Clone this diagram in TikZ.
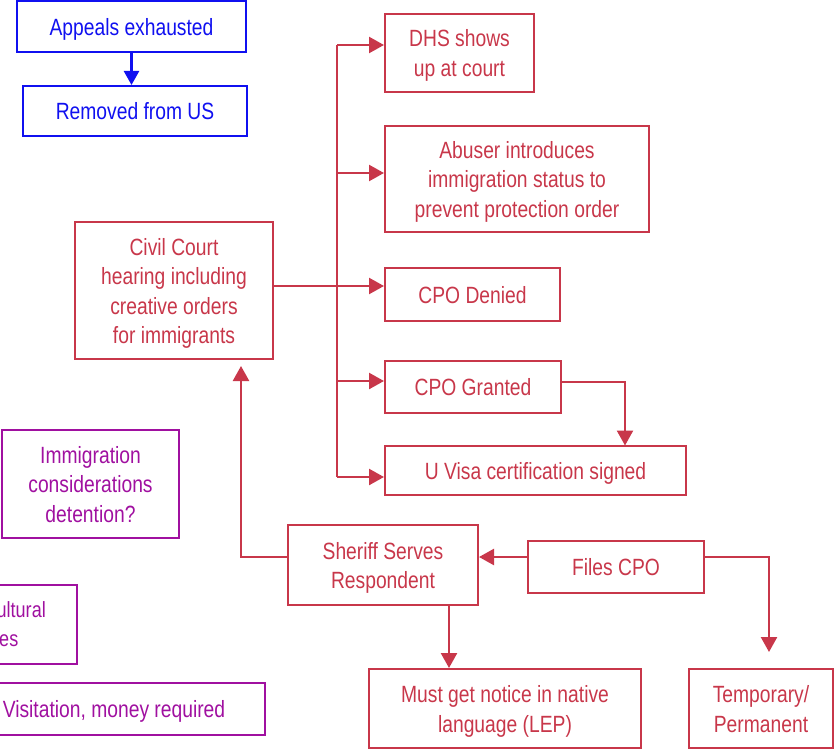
\documentclass[tikz,border=0pt]{standalone}
\usepackage{fontspec}
\setmainfont[FakeStretch=0.82]{Liberation Sans}
\usetikzlibrary{arrows.meta}
\definecolor{flowred}{HTML}{C8374A}
\definecolor{flowblue}{HTML}{1010F0}
\definecolor{flowpurple}{HTML}{A010A0}
% fixed line metrics so every label sits on the same baseline grid
\newcommand{\boxtopstrut}{\rule{0pt}{23.5pt}}
\newcommand{\boxbotstrut}{\rule[-6pt]{0pt}{6pt}}
\begin{document}
\begin{tikzpicture}[x=1pt,y=-1pt,
  box/.style={draw, line width=2pt, inner sep=0pt, align=center,
    font=\fontsize{23.5}{29.5}\selectfont},
  oneline/.style={text height=23.5pt, text depth=6pt},
  redbox/.style={box, draw=flowred, text=flowred},
  bluebox/.style={box, draw=flowblue, text=flowblue},
  purplebox/.style={box, draw=flowpurple, text=flowpurple},
  purpletext/.style={text=flowpurple, inner sep=0pt, font=\fontsize{22}{29.5}\selectfont},
  wire/.style={draw=flowred, line width=2.4pt},
  thinwire/.style={draw=flowred, line width=1.7pt},
  tip/.style={-{Triangle[length=15pt 0,width=16pt 0]}},
  redarrow/.style={wire, tip},
  bluearrow/.style={draw=flowblue, line width=2.4pt, -{Triangle[length=14pt 0,width=15pt 0]}}]
\useasboundingbox (0,0) rectangle (834,749);
\clip (0,0) rectangle (834,749);

% removal branch
\node[bluebox, oneline, minimum width=229pt, minimum height=51pt] (appeals) at (131.5,27) {Appeals exhausted};
\node[bluebox, oneline, minimum width=224pt, minimum height=50pt] (removed) at (135,111) {Removed from US};
\draw[bluearrow] (appeals.south) -- (appeals.south |- removed.north);

% hearing outcomes
\node[redbox, minimum width=149pt, minimum height=78pt] (dhs) at (459.5,53) {\boxtopstrut DHS shows\\up at court\boxbotstrut};
\node[redbox, minimum width=264pt, minimum height=106pt] (abuser) at (517,179) {\boxtopstrut Abuser introduces\\immigration status to\\prevent protection order\boxbotstrut};
\node[redbox, oneline, minimum width=175pt, minimum height=53pt] (denied) at (472.5,294.5) {CPO Denied};
\node[redbox, oneline, minimum width=176pt, minimum height=52pt] (granted) at (473,387) {CPO Granted};
\node[redbox, oneline, minimum width=301pt, minimum height=49pt] (uvisa) at (535.5,470.5) {U Visa certification signed};
\node[redbox, minimum width=198pt, minimum height=137pt] (civil) at (174,290.5) {\boxtopstrut Civil Court\\hearing including\\creative orders\\for immigrants\boxbotstrut};

% filing and service
\node[redbox, minimum width=190pt, minimum height=80pt] (sheriff) at (383,565) {\boxtopstrut Sheriff Serves\\Respondent\boxbotstrut};
\node[redbox, oneline, minimum width=176pt, minimum height=52pt] (files) at (616,567) {Files CPO};
\node[redbox, minimum width=272pt, minimum height=79pt] (notice) at (505,708.5) {\boxtopstrut Must get notice in native\\language (LEP)\boxbotstrut};
\node[redbox, minimum width=144pt, minimum height=79pt] (term) at (761,708.5) {\boxtopstrut Temporary/\\Permanent\boxbotstrut};

% side concerns
\node[purplebox, minimum width=177pt, minimum height=108pt] (detain) at (90.5,484) {\boxtopstrut Immigration\\considerations\\detention?\boxbotstrut};
\node[purplebox, minimum width=117pt, minimum height=79pt] (cultural) at (18.5,624.5) {};
\node[purpletext, anchor=base east] (culturalA) at (46,617) {ultural};
\node[purpletext, anchor=base east] (culturalB) at (18.5,646) {es};
\node[purplebox, oneline, minimum width=302pt, minimum height=52pt] (visit) at (114,709) {Visitation, money required};

% trunk from the hearing to its outcomes
\coordinate (ttop) at (337,45);
\coordinate (tabuser) at (337,173);
\coordinate (tdenied) at (337,286);
\coordinate (tgranted) at (337,381);
\coordinate (tbottom) at (337,477);
\draw[thinwire] (civil.east |- tdenied) -- (tdenied);
\draw[thinwire, line width=2pt] (ttop) -- (tbottom);
\draw[redarrow] (ttop) -- (ttop -| dhs.west);
\draw[redarrow] (tabuser) -- (tabuser -| abuser.west);
\draw[redarrow] (tdenied) -- (tdenied -| denied.west);
\draw[redarrow] (tgranted) -- (tgranted -| granted.west);
\draw[redarrow] (tbottom) -- (tbottom -| uvisa.west);

% granted leads to certification
\coordinate (gout) at (561,382);
\draw[redarrow] (gout) -| (625,445.5);

% filing and service connectors
\coordinate (fout) at (528,557);
\draw[redarrow] (fout) -- (479,557);
\coordinate (fright) at (704,557);
\coordinate (termtip) at (769,652);
\draw[redarrow] (fright) -| (termtip);
\coordinate (sdown) at (449,605);
\draw[redarrow] (sdown) -- (sdown |- notice.north);
\coordinate (sleft) at (288,557);
\coordinate (civiltip) at (241,366);
\draw[redarrow] (sleft) -| (civiltip);
\end{tikzpicture}
\end{document}
